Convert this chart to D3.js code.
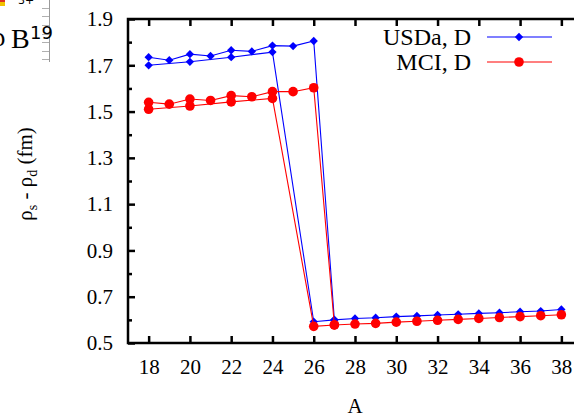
<!DOCTYPE html>
<html>
<head>
<meta charset="utf-8">
<script src="https://cdn.jsdelivr.net/npm/d3@7"></script>
<style>
  html, body { margin: 0; padding: 0; background: #fff; }
  svg { display: block; }
  text { font-family: "Liberation Serif", "Times New Roman", serif; fill: #000; }
</style>
</head>
<body>
<svg id="chart" width="574" height="417"></svg>
<script>
// Mass numbers along each branch
const chainA = [18, 19, 20, 21, 22, 23, 24, 25, 26, 27, 28, 29, 30, 31, 32, 33, 34, 35, 36, 37, 38];
const evenA  = [18, 20, 22, 24, 26, 27];

// USDa, D : rho_s - rho_d (fm)
const usdaChain = [1.735, 1.722, 1.748, 1.740, 1.765, 1.760, 1.785, 1.783, 1.805,
                   0.600, 0.606, 0.609, 0.614, 0.617, 0.621, 0.624, 0.628, 0.631, 0.635, 0.638, 0.645];
const usdaEven  = [1.700, 1.715, 1.735, 1.757, 0.592, 0.600];

// MCI, D : rho_s - rho_d (fm)
const mciChain = [1.540, 1.532, 1.554, 1.548, 1.569, 1.564, 1.586, 1.586, 1.603,
                  0.578, 0.582, 0.585, 0.590, 0.594, 0.598, 0.602, 0.606, 0.610, 0.614, 0.618, 0.622];
const mciEven  = [1.510, 1.524, 1.542, 1.557, 0.572, 0.578];

// Axis ticks
const xTicks = [18, 20, 22, 24, 26, 28, 30, 32, 34, 36, 38];
const yLabelTicks = [0.5, 0.7, 0.9, 1.1, 1.3, 1.5, 1.7, 1.9];
const yMinorTicks = [0.6, 0.8, 1.0, 1.2, 1.4, 1.6, 1.8];

const seriesNames = ["USDa, D", "MCI, D"];

const svg = d3.select("#chart");

const plotL = 128, plotT = 19, plotB = 343, plotR = 582;
const x = d3.scaleLinear().domain([17, 39]).range([plotL, plotR]);
const y = d3.scaleLinear().domain([0.5, 1.9]).range([plotB, plotT]);

// --- small inset fragment in the upper-left corner ---
const inset = svg.append("g").attr("class", "inset");
inset.append("rect").attr("x", 0).attr("y", 0).attr("width", 5).attr("height", 6).attr("fill", "#f2c200");
inset.append("rect").attr("x", 0).attr("y", 0).attr("width", 5).attr("height", 2).attr("fill", "#e03020");
inset.append("text").attr("x", 18).attr("y", 4).attr("font-size", 11).attr("fill", "#444")
  .style("font-family", "DejaVu Sans, sans-serif").text("3+");
inset.append("line").attr("x1", 49.5).attr("x2", 49.5).attr("y1", 0).attr("y2", 62)
  .attr("stroke", "#9a9a9a").attr("stroke-width", 1);
[8, 16, 25, 34, 42, 51, 59].forEach(t => {
  inset.append("line").attr("x1", 42).attr("x2", 49).attr("y1", t + 0.5).attr("y2", t + 0.5)
    .attr("stroke", "#b0b0b0").attr("stroke-width", 1);
});
inset.append("text").attr("x", -8).attr("y", 46).attr("font-size", 27).text("ρ");
inset.append("text").attr("x", 11).attr("y", 48).attr("font-size", 28).text("B");
inset.append("text").attr("x", 30).attr("y", 39).attr("font-size", 18)
  .style("font-family", "DejaVu Sans, sans-serif").text("19");

// --- frame ---
const frame = svg.append("g").attr("stroke", "#000").attr("stroke-width", 2.5).attr("fill", "none");
frame.append("path").attr("d", `M${plotR},${plotT}H${plotL}V${plotB}H${plotR}`);

// x ticks (bottom and top, pointing inward)
const xAxisB = d3.axisBottom(x).tickValues(xTicks).tickSize(-7).tickPadding(16).tickFormat(d3.format("d"));
const gxb = svg.append("g").attr("transform", `translate(0,${plotB})`).call(xAxisB);
gxb.select(".domain").remove();
gxb.selectAll(".tick line").attr("stroke-width", 2.5);
gxb.selectAll(".tick text").attr("font-size", 21).style("font-family", "Liberation Serif, serif");

const xAxisT = d3.axisTop(x).tickValues(xTicks).tickSize(-7).tickFormat("");
const gxt = svg.append("g").attr("transform", `translate(0,${plotT})`).call(xAxisT);
gxt.select(".domain").remove();
gxt.selectAll(".tick line").attr("stroke-width", 2.5);

// y ticks: labelled and unlabelled
const yAxis = d3.axisLeft(y).tickValues(yLabelTicks).tickSize(-7).tickPadding(15).tickFormat(d3.format(".1f"));
const gy = svg.append("g").attr("transform", `translate(${plotL},0)`).call(yAxis);
gy.select(".domain").remove();
gy.selectAll(".tick line").attr("stroke-width", 2.5);
gy.selectAll(".tick text").attr("font-size", 21).style("font-family", "Liberation Serif, serif");

const yMinor = d3.axisLeft(y).tickValues(yMinorTicks).tickSize(-4).tickFormat("");
const gym = svg.append("g").attr("transform", `translate(${plotL},0)`).call(yMinor);
gym.select(".domain").remove();
gym.selectAll(".tick line").attr("stroke-width", 2.5);

// axis titles
svg.append("text").attr("x", (plotL + plotR) / 2).attr("y", 413).attr("text-anchor", "middle")
  .attr("font-size", 21).text("A");

const yt = svg.append("text").attr("transform", `translate(32,174) rotate(-90)`)
  .attr("text-anchor", "middle").attr("font-size", 21);
yt.append("tspan").text("ρ");
yt.append("tspan").attr("font-size", 14).attr("dy", 5).text("s");
yt.append("tspan").attr("dy", -5).text(" - ρ");
yt.append("tspan").attr("font-size", 14).attr("dy", 5).text("d");
yt.append("tspan").attr("dy", -5).text(" (fm)");

// --- data ---
const line = d3.line().x(d => x(d[0])).y(d => y(d[1]));
const diamond = d3.symbol().type(d3.symbolDiamond2).size(44);

function drawSeries(color, branches, marker) {
  const g = svg.append("g");
  branches.forEach(([as, vs]) => {
    const pts = as.map((a, i) => [a, vs[i]]);
    g.append("path").attr("d", line(pts)).attr("fill", "none")
      .attr("stroke", color).attr("stroke-width", 1.1);
  });
  branches.forEach(([as, vs]) => {
    as.forEach((a, i) => {
      if (marker === "diamond") {
        g.append("path").attr("d", diamond()).attr("transform", `translate(${x(a)},${y(vs[i])})`).attr("fill", color);
      } else {
        g.append("circle").attr("cx", x(a)).attr("cy", y(vs[i])).attr("r", 4.8).attr("fill", color);
      }
    });
  });
}

drawSeries("#0000ff", [[chainA, usdaChain], [evenA, usdaEven]], "diamond");
drawSeries("#ff0000", [[chainA, mciChain], [evenA, mciEven]], "circle");

// --- legend ---
const legend = svg.append("g");
const legendItems = [
  { name: seriesNames[0], color: "#0000ff", marker: "diamond", yy: 37 },
  { name: seriesNames[1], color: "#ff0000", marker: "circle", yy: 62 }
];
legendItems.forEach(it => {
  legend.append("text").attr("x", 471).attr("y", it.yy + 8).attr("text-anchor", "end")
    .attr("font-size", 24).text(it.name);
  legend.append("line").attr("x1", 487).attr("x2", 552).attr("y1", it.yy).attr("y2", it.yy)
    .attr("stroke", it.color).attr("stroke-width", 1.1);
  if (it.marker === "diamond") {
    legend.append("path").attr("d", diamond()).attr("transform", `translate(519,${it.yy})`).attr("fill", it.color);
  } else {
    legend.append("circle").attr("cx", 519).attr("cy", it.yy).attr("r", 4.8).attr("fill", it.color);
  }
});
</script>
</body>
</html>
